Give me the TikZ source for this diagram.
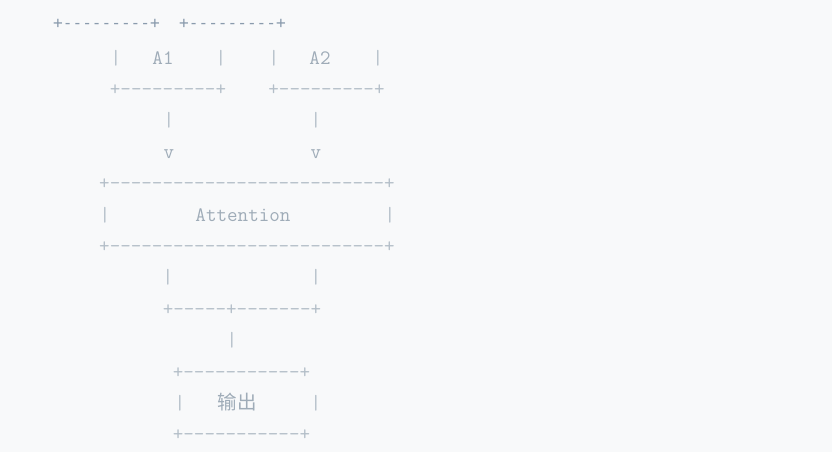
\documentclass[tikz,border=0pt]{standalone}
\usepackage{fontspec}
\setmonofont{Latin Modern Mono}
\newfontfamily\firstfont{DejaVu Sans Mono}
\newfontfamily\cjk{Noto Sans CJK SC}
\definecolor{bg}{HTML}{F8F9FA}
\definecolor{toptxt}{HTML}{8A9BAD}
\definecolor{txt}{HTML}{9FACB8}
\definecolor{rule}{HTML}{B3BEC8}
\begin{document}
\begin{tikzpicture}[x=1pt,y=-1pt,
  asc/.style={inner sep=0pt, anchor=base, font=\ttfamily\fontsize{20.5}{24}\selectfont, text=rule},
  lbl/.style={asc, text=txt},
  topline/.style={inner sep=0pt, anchor=base, font=\firstfont\fontsize{16.1}{19}\selectfont, text=toptxt},
  cjklbl/.style={inner sep=0pt, anchor=base, font=\cjk\fontsize{19.5}{22}\selectfont, text=txt}]
\fill[bg] (0,0) rectangle (832,452);
\useasboundingbox (0,0) rectangle (832,452);
% line 1
\node[topline] (l1) at (169.5,29) {+---------+\ \ +---------+};
% line 2
\node[asc] (a1l) at (116,64) {|};
\node[lbl] (a1) at (163,64) {A1};
\node[asc] (a1r) at (221,64) {|};
\node[asc] (a2l) at (274,64) {|};
\node[lbl] (a2) at (320,64) {A2};
\node[asc] (a2r) at (378,64) {|};
% line 3
\node[asc] (a1b) at (168,95.4) {+---------+};
\node[asc] (a2b) at (326.5,95.4) {+---------+};
% line 4
\node[asc] (p1) at (169,126.8) {|};
\node[asc] (p2) at (316,126.8) {|};
% line 5
\node[lbl] (v1) at (169,158.2) {v};
\node[lbl] (v2) at (316,158.2) {v};
% line 6
\node[asc] (att) at (247,189.6) {+--------------------------+};
% line 7
\node[asc] (attl) at (105,221) {|};
\node[lbl] (attn) at (243,221) {Attention};
\node[asc] (attr) at (390,221) {|};
% line 8
\node[asc] (attb) at (247,252.4) {+--------------------------+};
% line 9
\node[asc] (q1) at (168,283.8) {|};
\node[asc] (q2) at (316,283.8) {|};
% line 10
\node[asc] (join) at (242,315.2) {+-----+-------+};
% line 11
\node[asc] (q3) at (232,346.6) {|};
% line 12
\node[asc] (outt) at (241.5,378) {+-----------+};
% line 13
\node[asc] (outl) at (180,409.4) {|};
\node[cjklbl] (out) at (237,409.4) {输出};
\node[asc] (outr) at (316,409.4) {|};
% line 14
\node[asc] (outb) at (241.5,440.8) {+-----------+};
\end{tikzpicture}
\end{document}
